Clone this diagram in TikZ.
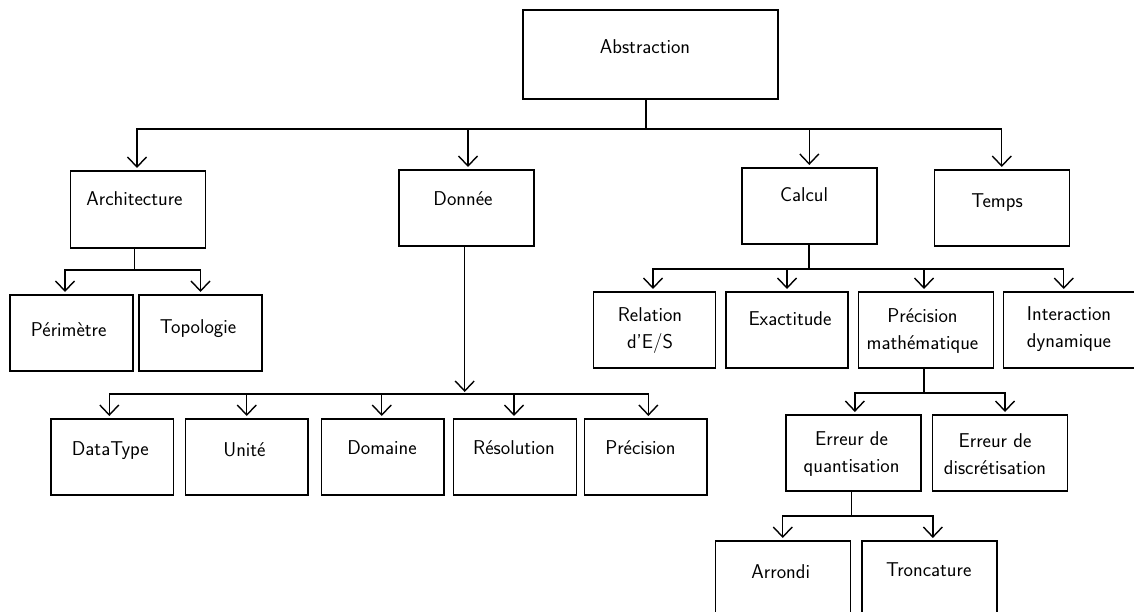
\documentclass[tikz,border=0pt]{standalone}
\usetikzlibrary{arrows.meta,calc}
\begin{document}
\begin{tikzpicture}[x=1pt,y=-1pt,
  box/.style={draw, line width=1.4pt, inner sep=0pt, outer sep=0pt, minimum height=76pt},
  lbl/.style={font=\sffamily\fontsize{20}{27}\selectfont, align=center, inner sep=0pt},
  ln/.style={line width=1.4pt},
  arr/.style={line width=1.4pt, line join=miter, -{Straight Barb[length=10pt,width=19pt]}, shorten >=3pt}]
\useasboundingbox (0,0) rectangle (1134,612);

% boxes
\node[box, minimum width=255pt, minimum height=89pt] (abs) at (650.5,54.5) {};
\node[box, minimum width=135pt, minimum height=77pt] (arch) at (138,209.5) {};
\node[box, minimum width=135pt] (don) at (466.5,208) {};
\node[box, minimum width=135pt] (cal) at (809.3,206) {};
\node[box, minimum width=135pt] (tem) at (1001.75,208) {};
\node[box, minimum width=123pt] (per) at (71.5,333) {};
\node[box, minimum width=123pt] (top) at (200.5,333) {};
\node[box, minimum width=122pt] (rel) at (654.5,330) {};
\node[box, minimum width=122pt] (exa) at (787,330) {};
\node[box, minimum width=135pt] (pma) at (926,330) {};
\node[box, minimum width=135pt] (int) at (1070.75,330) {};
\node[box, minimum width=122.5pt] (dt) at (112.3,457) {};
\node[box, minimum width=122.5pt] (uni) at (246.75,457) {};
\node[box, minimum width=122.5pt] (dom) at (382.75,457) {};
\node[box, minimum width=122.5pt] (res) at (515,457) {};
\node[box, minimum width=122.5pt] (pre) at (645.85,457) {};
\node[box, minimum width=135pt] (eq) at (853.35,453) {};
\node[box, minimum width=135pt] (ed) at (1000,453) {};
\node[box, minimum width=135pt] (arr) at (782.75,579) {};
\node[box, minimum width=135pt] (tro) at (929.35,579) {};

% labels
\node[lbl] (tabs) at (645,47) {Abstraction};
\node[lbl] (tarch) at (134.5,199) {Architecture};
\node[lbl] (tdon) at (463,199) {Donnée};
\node[lbl] (tcal) at (804,195) {Calcul};
\node[lbl] (ttem) at (997,203) {Temps};
\node[lbl] (tper) at (68.7,330) {Périmètre};
\node[lbl] (ttop) at (198,329) {Topologie};
\node[lbl] (trel) at (650,330.7) {Relation\\d'E/S};
\node[lbl] (texa) at (790,319) {Exactitude};
\node[lbl] (tpma) at (922.5,331.5) {Précision\\mathématique};
\node[lbl] (tint) at (1069,329) {Interaction\\dynamique};
\node[lbl] (tdt) at (110.3,451) {DataType};
\node[lbl] (tuni) at (244.5,450) {Unité};
\node[lbl] (tdom) at (382,448) {Domaine};
\node[lbl] (tres) at (514,448) {Résolution};
\node[lbl] (tpre) at (640.4,448) {Précision};
\node[lbl] (teq) at (851.6,454.5) {Erreur de\\quantisation};
\node[lbl] (ted) at (995,454.5) {Erreur de\\discrétisation};
\node[lbl] (tarr) at (780.7,571.7) {Arrondi};
\node[lbl] (ttro) at (928.7,570) {Troncature};

% connectors
\coordinate (ab) at (646,129);
\draw[ln] (ab |- abs.south) -- (ab);
\draw[arr] (ab) -| ($(arch.north)+(-1,0)$);
\draw[arr] (ab) -| ($(don.north)+(1.5,0)$);
\draw[arr] (ab) -| (cal.north);
\draw[arr] (ab) -| (tem.north);

\coordinate (archb) at (134.5,270);
\draw[ln] (archb |- arch.south) -- (archb);
\draw[arr] (archb) -| ($(per.north)+(-6.5,0)$);
\draw[arr] (archb) -| (top.north);

\coordinate (donb) at (464.7,394);
\draw[arr, shorten >=2pt] (donb |- don.south) -- (donb);
\draw[arr] (donb) -| ($(dt.north)+(-3,0)$);
\draw[arr] (donb) -| (uni.north);
\draw[arr] (donb) -| ($(dom.north)+(-1,0)$);
\draw[arr] (donb) -| ($(res.north)+(-1,0)$);
\draw[arr] (donb) -| ($(pre.north)+(2.5,0)$);

\coordinate (calb) at (809,269);
\draw[ln] (calb |- cal.south) -- (calb);
\draw[arr] (calb) -| ($(rel.north)+(-1.5,0)$);
\draw[arr] (calb) -| (exa.north);
\draw[arr] (calb) -| ($(pma.north)+(-2,0)$);
\draw[arr] (calb) -| ($(int.north)+(-7,0)$);

\coordinate (pmab) at (924,393);
\draw[ln] (pmab |- pma.south) -- (pmab);
\draw[arr] (pmab) -| ($(eq.north)+(1.5,0)$);
\draw[arr] (pmab) -| ($(ed.north)+(5,0)$);

\coordinate (eqb) at (851.6,516);
\draw[ln] (eqb |- eq.south) -- (eqb);
\draw[arr] (eqb) -| (arr.north);
\draw[arr] (eqb) -| ($(tro.north)+(3.5,0)$);
\end{tikzpicture}
\end{document}
